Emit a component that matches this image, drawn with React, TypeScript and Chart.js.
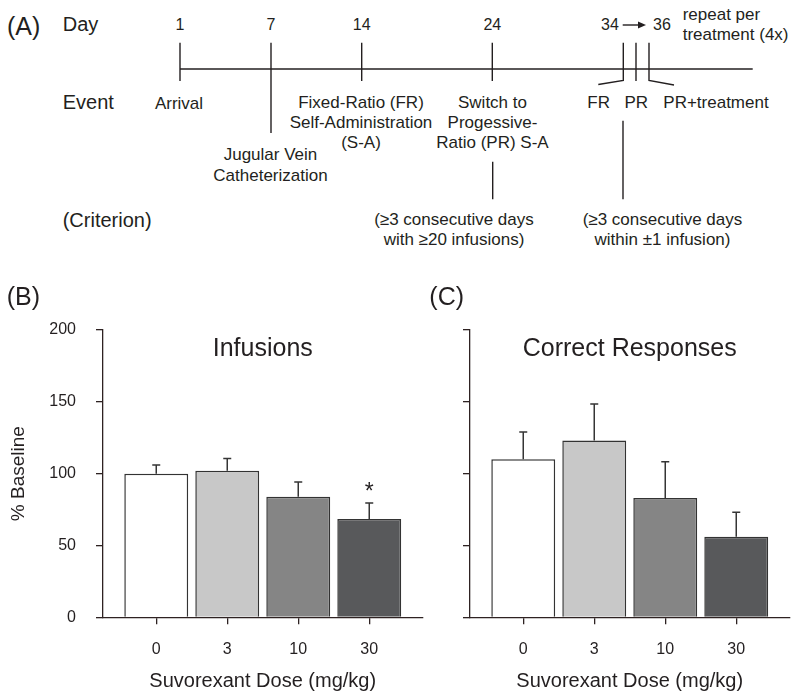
import React, { useEffect, useRef } from "react";
import { Chart, registerables } from "chart.js";

Chart.register(...registerables);

// ---------- data ----------
const doseLabels = ["0", "3", "10", "30"];
const infusionsMean = [100, 102, 84, 68.5];
const infusionsSem = [6, 8.5, 10.2, 11];
const infusionsSig = [false, false, false, true];
const correctMean = [110, 123, 83, 56];
const correctSem = [19, 25.5, 25.3, 17.2];
const correctSig = [false, false, false, false];
const barColors = ["#ffffff", "#c8c8c8", "#858585", "#58595b"];
const yMin = 0;
const yMax = 200;
const yStep = 50;

// timeline texts
const dayLabels = ["1", "7", "14", "24", "34", "36"];
const eventFR = ["Fixed-Ratio (FR)", "Self-Administration", "(S-A)"];
const eventPR = ["Switch to", "Progessive-", "Ratio (PR) S-A"];
const eventCath = ["Jugular Vein", "Catheterization"];
const critFR = ["(\u22653 consecutive days", "with \u226520 infusions)"];
const critPR = ["(\u22653 consecutive days", "within \u00b11 infusion)"];

const FONT = "'Liberation Sans', Arial, Helvetica, sans-serif";
const TEXT = "#231f20";
const AXIS = "#2e2222";
const EDGE = "#333333";

type PanelProps = {
  panelLabel: string;
  title: string;
  means: number[];
  sems: number[];
  sig: boolean[];
  showYLabels: boolean;
  left: number;
  width: number;
  axisWidth: number;
  rightPad: number;
  labelX: number;
};

function BarPanel(p: PanelProps) {
  const ref = useRef<HTMLCanvasElement>(null);
  useEffect(() => {
    if (!ref.current) return;
    const overlay = {
      id: "overlay",
      afterDatasetsDraw(chart: any) {
        const ctx = chart.ctx;
        const ys = chart.scales.y;
        const meta = chart.getDatasetMeta(0);
        ctx.save();
        ctx.strokeStyle = "#353535";
        ctx.lineWidth = 1.5;
        meta.data.forEach((bar: any, i: number) => {
          const x = bar.x;
          const yTop = bar.y;
          const yErr = ys.getPixelForValue(p.means[i] + p.sems[i]);
          ctx.beginPath();
          ctx.moveTo(x, yTop);
          ctx.lineTo(x, yErr);
          ctx.moveTo(x - 4, yErr);
          ctx.lineTo(x + 4, yErr);
          ctx.stroke();
          if (p.sig[i]) {
            ctx.fillStyle = TEXT;
            ctx.font = `23px ${FONT}`;
            ctx.textAlign = "center";
            ctx.textBaseline = "alphabetic";
            ctx.fillText("*", x, yErr - 4);
          }
        });
        ctx.restore();
      },
      afterDraw(chart: any) {
        const ctx = chart.ctx;
        const a = chart.chartArea;
        ctx.save();
        ctx.fillStyle = TEXT;
        ctx.textBaseline = "alphabetic";
        ctx.font = `25px ${FONT}`;
        ctx.textAlign = "center";
        ctx.fillText(p.title, (a.left + a.right) / 2, a.top + 26);
        ctx.textAlign = "left";
        ctx.fillText(p.panelLabel, p.labelX, 45);
        ctx.restore();
      },
    };
    const chart = new Chart(ref.current, {
      type: "bar",
      data: {
        datasets: [
          {
            data: p.means.map((v, i) => ({ x: i, y: v })),
            backgroundColor: barColors,
            borderColor: EDGE,
            borderWidth: 1.5,
            borderSkipped: "start",
            barPercentage: 0.9,
            categoryPercentage: 1,
          } as any,
        ],
      },
      options: {
        responsive: false,
        animation: false,
        devicePixelRatio: 1,
        layout: { padding: { top: 70, right: p.rightPad, left: 0, bottom: 0 } },
        plugins: {
          legend: { display: false },
          tooltip: { enabled: false },
          title: { display: false },
        },
        scales: {
          x: {
            type: "linear",
            min: -0.75,
            max: doseLabels.length - 0.25,
            offset: false,
            afterBuildTicks: (s: any) => {
              s.ticks = doseLabels.map((_, i) => ({ value: i }));
            },
            afterFit: (s: any) => {
              s.height = 82.7;
            },
            ticks: {
              callback: (v: any) => doseLabels[v as number] ?? "",
              font: { family: FONT, size: 16 },
              color: TEXT,
              padding: 16,
              maxRotation: 0,
              autoSkip: false,
            },
            grid: {
              display: true,
              drawOnChartArea: false,
              drawTicks: true,
              tickLength: 7,
              color: AXIS,
              lineWidth: 1.3,
              offset: false,
            },
            border: { display: true, color: AXIS, width: 1.3 },
            title: {
              display: true,
              text: "Suvorexant Dose (mg/kg)",
              font: { family: FONT, size: 20 },
              color: TEXT,
              padding: { top: 0, bottom: 7 },
            },
          } as any,
          y: {
            min: yMin,
            max: yMax,
            afterFit: (s: any) => {
              s.width = p.axisWidth;
            },
            ticks: {
              stepSize: yStep,
              display: p.showYLabels,
              font: { family: FONT, size: 16 },
              color: TEXT,
              padding: 20,
            },
            grid: {
              display: true,
              drawOnChartArea: false,
              drawTicks: true,
              tickLength: 7,
              color: AXIS,
              lineWidth: 1.3,
            },
            border: { display: true, color: AXIS, width: 1.3 },
            title: {
              display: p.showYLabels,
              text: "% Baseline",
              font: { family: FONT, size: 19 },
              color: TEXT,
              padding: { top: 7, bottom: 0 },
            },
          } as any,
        },
      },
      plugins: [overlay],
    });
    return () => chart.destroy();
  }, []);
  return (
    <canvas
      ref={ref}
      width={p.width}
      height={440}
      style={{ position: "absolute", left: p.left, top: 260, width: p.width, height: 440 }}
    />
  );
}

function Timeline() {
  const t = { fontFamily: FONT, fill: TEXT } as const;
  const ln = { stroke: TEXT, strokeWidth: 1.4, fill: "none" } as const;
  return (
    <svg width={800} height={260} style={{ position: "absolute", left: 0, top: 0 }}>
      <text x={7} y={34.5} fontSize={25} {...t}>(A)</text>
      <text x={62.7} y={30.7} fontSize={20} {...t}>Day</text>
      <text x={62.7} y={109} fontSize={20} {...t}>Event</text>
      <text x={62.7} y={227.3} fontSize={20} {...t}>(Criterion)</text>

      <text x={180} y={30} fontSize={16} textAnchor="middle" {...t}>{dayLabels[0]}</text>
      <text x={271} y={30} fontSize={16} textAnchor="middle" {...t}>{dayLabels[1]}</text>
      <text x={361.7} y={30} fontSize={16} textAnchor="middle" {...t}>{dayLabels[2]}</text>
      <text x={492.3} y={30} fontSize={16} textAnchor="middle" {...t}>{dayLabels[3]}</text>
      <text x={610} y={30} fontSize={16} textAnchor="middle" {...t}>{dayLabels[4]}</text>
      <text x={662} y={30} fontSize={16} textAnchor="middle" {...t}>{dayLabels[5]}</text>
      <line x1={622.7} y1={25} x2={639} y2={25} {...ln} />
      <polygon points="646,25 638,21.5 638,28.5" fill={TEXT} />
      <text x={682.7} y={19.5} fontSize={17} {...t}>repeat per</text>
      <text x={682.7} y={40} fontSize={17} {...t}>treatment (4x)</text>

      <line x1={180} y1={69} x2={752.7} y2={69} {...ln} />
      <line x1={180} y1={42.7} x2={180} y2={81} {...ln} />
      <line x1={271} y1={42.7} x2={271} y2={133} {...ln} />
      <line x1={361.7} y1={42.7} x2={361.7} y2={81} {...ln} />
      <line x1={492.3} y1={42.7} x2={492.3} y2={81} {...ln} />
      <polyline points="623.3,42.7 623.3,80.5 598.3,84.5" {...ln} />
      <line x1={636} y1={42.7} x2={636} y2={81} {...ln} />
      <polyline points="649,42.7 649,80.5 674,85" {...ln} />

      <text x={179} y={108.5} fontSize={17} textAnchor="middle" {...t}>Arrival</text>
      {eventFR.map((s, i) => (
        <text key={"fr" + i} x={361} y={108.3 + i * 20} fontSize={17} textAnchor="middle" {...t}>{s}</text>
      ))}
      {eventPR.map((s, i) => (
        <text key={"pr" + i} x={492.5} y={108.3 + i * 20} fontSize={17} textAnchor="middle" {...t}>{s}</text>
      ))}
      {eventCath.map((s, i) => (
        <text key={"c" + i} x={270.5} y={160 + i * 20.5} fontSize={17} textAnchor="middle" {...t}>{s}</text>
      ))}
      <text x={598.7} y={108.3} fontSize={17} textAnchor="middle" {...t}>FR</text>
      <text x={636.3} y={108.3} fontSize={17} textAnchor="middle" {...t}>PR</text>
      <text x={716} y={108.3} fontSize={17} textAnchor="middle" {...t}>PR+treatment</text>

      <line x1={492.7} y1={161.7} x2={492.7} y2={199.3} {...ln} />
      <line x1={623} y1={120.7} x2={623} y2={199.3} {...ln} />
      {critFR.map((s, i) => (
        <text key={"cf" + i} x={454} y={225 + i * 19.5} fontSize={17} textAnchor="middle" {...t}>{s}</text>
      ))}
      {critPR.map((s, i) => (
        <text key={"cp" + i} x={662.5} y={225 + i * 19.5} fontSize={17} textAnchor="middle" {...t}>{s}</text>
      ))}
    </svg>
  );
}

export default function App() {
  return (
    <div style={{ position: "absolute", left: 0, top: 0, width: 800, height: 700, background: "#ffffff", overflow: "hidden" }}>
      <Timeline />
      <BarPanel
        panelLabel="(B)"
        title="Infusions"
        means={infusionsMean}
        sems={infusionsSem}
        sig={infusionsSig}
        showYLabels={true}
        left={0}
        width={430}
        axisWidth={103}
        rightPad={7.5}
        labelX={6.7}
      />
      <BarPanel
        panelLabel="(C)"
        title="Correct Responses"
        means={correctMean}
        sems={correctSem}
        sig={correctSig}
        showYLabels={false}
        left={420}
        width={380}
        axisWidth={50}
        rightPad={10.5}
        labelX={9.3}
      />
    </div>
  );
}
